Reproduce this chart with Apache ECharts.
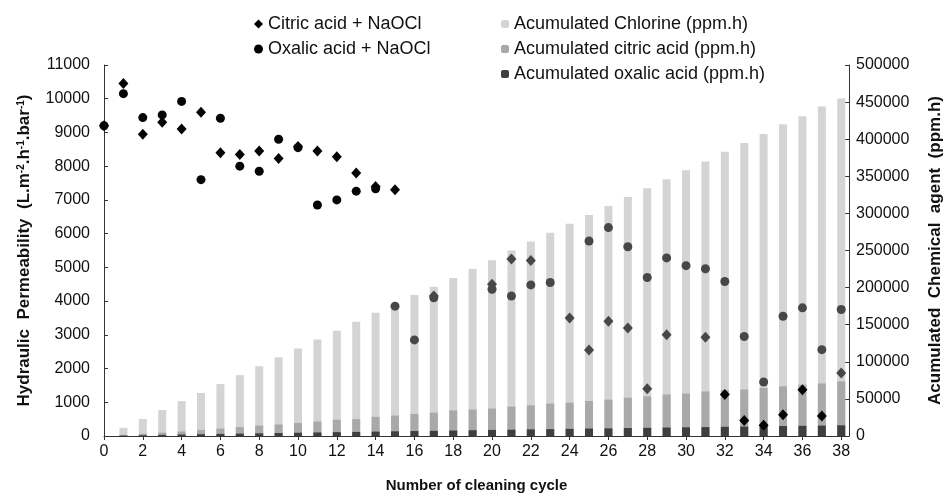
<!DOCTYPE html>
<html>
<head>
<meta charset="utf-8">
<script src="https://cdn.jsdelivr.net/npm/echarts@6/dist/echarts.min.js"></script>
<style>
  html, body { margin: 0; padding: 0; background: #fff; }
  #chart { width: 952px; height: 498px; }
</style>
</head>
<body>
<div id="chart"></div>
<script>
// cleaning cycles 0..38
const cycles = [0, 1, 2, 3, 4, 5, 6, 7, 8, 9, 10, 11, 12, 13, 14, 15, 16, 17, 18, 19,
  20, 21, 22, 23, 24, 25, 26, 27, 28, 29, 30, 31, 32, 33, 34, 35, 36, 37, 38];

// accumulated chemical agent (ppm.h), right axis
const chlorine = [0, 11000, 23000, 35000, 47000, 58000, 70000, 82000, 94000, 106000,
  118000, 130000, 142000, 154000, 166000, 178000, 190000, 201000, 213000, 225000,
  237000, 250000, 262000, 274000, 286000, 298000, 310000, 322000, 334000, 346000,
  358000, 370000, 383000, 395000, 407000, 420000, 431000, 444000, 455000];
const citricAcid = [0, 1500, 3000, 4500, 6000, 8000, 10000, 12000, 14000, 15500,
  17500, 19500, 21900, 22700, 25800, 27600, 29700, 31500, 34500, 35600,
  37000, 39600, 41400, 43700, 45000, 47200, 49000, 51600, 53400, 56000,
  57300, 60000, 61700, 62600, 64700, 66900, 69100, 70800, 73500];
const oxalicAcid = [0, 500, 1000, 1500, 2000, 2400, 2800, 3200, 3600, 4000,
  4400, 4800, 5200, 5500, 5900, 6300, 6700, 7000, 7400, 7800,
  8200, 8500, 8900, 9200, 9600, 10000, 10300, 10700, 11000, 11400,
  11700, 12000, 12400, 12700, 13000, 13400, 13700, 14000, 14400];

// hydraulic permeability (L.m-2.h-1.bar-1), left axis
const citricPerm = [9200, 10450, 8950, 9300, 9100, 9600, 8400, 8350, 8450, 8230,
  8580, 8450, 8280, 7800, 7400, 7300, null, 4150, null, null,
  4500, 5250, 5200, null, 3500, 2550, 3400, 3200, 1400, 3000,
  null, 2930, 1230, 460, 320, 630, 1370, 590, 1870];
const oxalicPerm = [9200, 10150, 9440, 9520, 9920, 7600, 9420, 8000, 7850, 8800,
  8550, 6850, 7000, 7260, 7330, 3850, 2850, 4100, null, null,
  4350, 4150, 4480, 4550, null, 5780, 6180, 5610, 4700, 5280,
  5050, 4960, 4580, 2950, 1600, 3550, 3800, 2560, 3750];

const leftMax = 11000;
const rightMax = 500000;

const chart = echarts.init(document.getElementById('chart'));
const font = 'Liberation Sans, Arial, sans-serif';

function pairs(vals) {
  return cycles.map((c, i) => [c, vals[i]]);
}

// points sitting over the light grey part of a bar look grey in the figure
function pointColor(p) {
  const i = p.dataIndex;
  const v = p.value[1] / leftMax * rightMax;
  if (v < chlorine[i] && v > citricAcid[i]) return '#474747';
  return '#050505';
}

chart.setOption({
  animation: false,
  textStyle: { fontFamily: font },
  grid: { left: 104, right: 97, top: 65, bottom: 52 },
  legend: [
    {
      orient: 'vertical',
      left: 249,
      top: 10,
      itemWidth: 9,
      itemHeight: 9,
      itemGap: 7,
      textStyle: { fontSize: 18, color: '#111', fontFamily: font },
      data: [
        { name: 'Citric acid + NaOCl', icon: 'diamond', itemStyle: { color: '#000' } },
        { name: 'Oxalic acid + NaOCl', icon: 'circle', itemStyle: { color: '#000' } }
      ]
    },
    {
      orient: 'vertical',
      left: 496,
      top: 10,
      itemWidth: 8,
      itemHeight: 8,
      itemGap: 7,
      textStyle: { fontSize: 18, color: '#111', fontFamily: font },
      data: ['Acumulated Chlorine (ppm.h)', 'Acumulated citric acid (ppm.h)', 'Acumulated oxalic acid (ppm.h)']
    }
  ],
  xAxis: {
    type: 'value',
    min: 0,
    max: 38.4,
    interval: 2,
    name: 'Number of cleaning cycle',
    nameLocation: 'middle',
    nameGap: 42,
    nameTextStyle: { fontSize: 15, fontWeight: 'bold', color: '#111', fontFamily: font },
    axisLine: { lineStyle: { color: '#333' } },
    axisTick: { length: 4, lineStyle: { color: '#333' } },
    axisLabel: {
      fontSize: 16, color: '#111', margin: 8, showMaxLabel: false,
      formatter: v => (v % 2 === 0 ? String(v) : '')
    },
    splitLine: { show: false }
  },
  yAxis: [
    {
      type: 'value',
      min: 0,
      max: leftMax,
      interval: 1000,
      name: 'Hydraulic  Permeability  (L.m{s|-2}.h{s|-1}.bar{s|-1})',
      nameLocation: 'middle',
      nameRotate: 90,
      nameGap: 71,
      nameTextStyle: {
        fontSize: 17, fontWeight: 'bold', color: '#111', fontFamily: font,
        rich: { s: { fontSize: 10, fontWeight: 'bold', verticalAlign: 'top', color: '#111' } }
      },
      axisLine: { show: true, lineStyle: { color: '#333' } },
      axisTick: { show: true, inside: true, length: 4, lineStyle: { color: '#333' } },
      axisLabel: { fontSize: 16, color: '#111', margin: 14, formatter: v => String(v) },
      splitLine: { show: false }
    },
    {
      type: 'value',
      min: 0,
      max: rightMax,
      interval: 50000,
      position: 'right',
      name: 'Acumulated  Chemical  agent  (ppm.h)',
      nameLocation: 'middle',
      nameRotate: 90,
      nameGap: 78,
      nameTextStyle: { fontSize: 17, fontWeight: 'bold', color: '#111', fontFamily: font },
      axisLine: { show: true, lineStyle: { color: '#333' } },
      axisTick: { show: true, inside: true, length: 4, lineStyle: { color: '#333' } },
      axisLabel: { fontSize: 16, color: '#111', margin: 7, formatter: v => String(v) },
      splitLine: { show: false }
    }
  ],
  series: [
    {
      name: 'Acumulated Chlorine (ppm.h)',
      type: 'bar',
      yAxisIndex: 1,
      barWidth: 8,
      barGap: '-100%',
      itemStyle: { color: '#d4d4d4' },
      data: pairs(chlorine)
    },
    {
      name: 'Acumulated citric acid (ppm.h)',
      type: 'bar',
      yAxisIndex: 1,
      barWidth: 8,
      barGap: '-100%',
      itemStyle: { color: '#a9a9a9' },
      data: pairs(citricAcid)
    },
    {
      name: 'Acumulated oxalic acid (ppm.h)',
      type: 'bar',
      yAxisIndex: 1,
      barWidth: 8,
      barGap: '-100%',
      itemStyle: { color: '#3f3f3f' },
      data: pairs(oxalicAcid)
    },
    {
      name: 'Citric acid + NaOCl',
      type: 'scatter',
      symbol: 'diamond',
      symbolSize: [10, 11],
      itemStyle: { color: pointColor, opacity: 1 },
      data: pairs(citricPerm)
    },
    {
      name: 'Oxalic acid + NaOCl',
      type: 'scatter',
      symbol: 'circle',
      symbolSize: 9,
      itemStyle: { color: pointColor, opacity: 1 },
      data: pairs(oxalicPerm)
    }
  ]
});
</script>
</body>
</html>
